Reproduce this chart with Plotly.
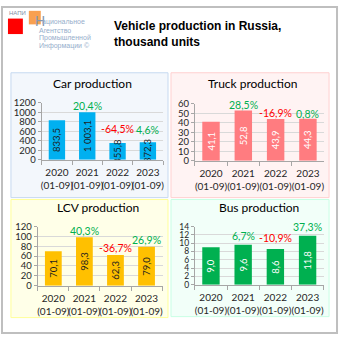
import plotly.graph_objects as go

# ---------------- data ----------------
categories = ["2020<br>(01-09)", "2021<br>(01-09)", "2022<br>(01-09)", "2023<br>(01-09)"]

car_values = [833.5, 1003.1, 355.8, 372.3]
car_growth = [20.4, -64.5, 4.6]

truck_values = [41.1, 52.8, 43.9, 44.3]
truck_growth = [28.5, -16.9, 0.8]

lcv_values = [70.1, 98.3, 62.3, 79.0]
lcv_growth = [40.3, -36.7, 26.9]

bus_values = [9.0, 9.6, 8.6, 11.8]
bus_growth = [6.7, -10.9, 37.3]

panel_titles = ["Car production", "Truck production", "LCV production", "Bus production"]
y_ticks = {
    "car": [0, 200, 400, 600, 800, 1000, 1200],
    "truck": [0, 10, 20, 30, 40, 50, 60],
    "lcv": [0, 20, 40, 60, 80, 100, 120],
    "bus": [0, 2, 4, 6, 8, 10, 12, 14],
}
main_title = "<b>Vehicle production in Russia,<br>thousand units</b>"

# ---------------- styles ----------------
W = H = 340
FONT = "Lato"
GREEN = "#00B050"
RED = "#FF0000"
# pixel gap between bar top and the centre of its growth label
label_gap = {"car": [6, 14, 12], "truck": [6, 6, 5], "lcv": [6, 7, 7], "bus": [9, 11, 9]}
ytick_size = {"car": 9.5, "truck": 9.5, "lcv": 9.5, "bus": 8.5}


def px(x):
    return x / W


def py(y):
    return 1 - y / H


def fmt_val(v):
    return f"{v:,.1f}".replace(",", " ").replace(".", ",")


def fmt_pct(v):
    return f"{v:.1f}".replace(".", ",") + "%"


fig = go.Figure()
annotations = []

panels = [
    # key, values, growth, bar colour, inner label colour, xaxis domain px, yaxis domain px(top,bottom)
    ("car", car_values, car_growth, "#00B0F0", "#1F1F1F", (41, 163), (100, 159)),
    ("truck", truck_values, truck_growth, "#FF7C80", "#FFFFFF", (195, 325), (101, 160)),
    ("lcv", lcv_values, lcv_growth, "#FFC000", "#1F1F1F", (37, 163), (228, 289)),
    ("bus", bus_values, bus_growth, "#00B050", "#FFFFFF", (195, 325), (228, 288)),
]

for i, (key, vals, growth, color, lblcol, xd, yd) in enumerate(panels):
    n = "" if i == 0 else str(i + 1)
    xa, ya = "x" + n, "y" + n
    fig.add_trace(go.Bar(
        x=categories, y=vals, xaxis=xa, yaxis=ya,
        marker=dict(color=color, line=dict(width=0)),
        text=[fmt_val(v) for v in vals],
        textposition="inside", insidetextanchor="middle",
        textangle=-90, constraintext="none",
        textfont=dict(family=FONT, size=9.5, color=lblcol),
        hoverinfo="skip", showlegend=False,
    ))
    for cat, v, g, gap in zip(categories[1:], vals[1:], growth, label_gap[key]):
        annotations.append(dict(
            x=cat, y=v, xref=xa, yref=ya, text=fmt_pct(g), showarrow=False,
            xanchor="center", yanchor="middle", yshift=gap,
            font=dict(family=FONT, size=10.5, color=GREEN if g >= 0 else RED),
        ))
    ticks = y_ticks[key]
    fig.layout["xaxis" + n] = dict(
        domain=[px(xd[0]), px(xd[1])], anchor=ya,
        type="category", showgrid=False,
        showline=True, linecolor="#A6A6A6", linewidth=1,
        ticks="outside", tickson="boundaries", ticklen=4, tickcolor="#A6A6A6",
        tickangle=0, ticklabelstandoff=3,
        tickfont=dict(family=FONT, size=10, color="#262626"),
        fixedrange=True,
    )
    fig.layout["yaxis" + n] = dict(
        domain=[py(yd[1]), py(yd[0])], anchor=xa,
        range=[ticks[0], ticks[-1]], tickvals=ticks,
        showgrid=True, gridcolor="#D9D9D9", gridwidth=1,
        showline=True, linecolor="#A6A6A6", linewidth=1,
        ticks="outside", ticklen=3, tickcolor="#A6A6A6",
        tickfont=dict(family=FONT, size=ytick_size[key], color="#262626"),
        zeroline=False, fixedrange=True,
    )

fig.update_layout(bargap=0.46)

# ---------------- decoration ----------------
shapes = []
panel_boxes = [
    ((10, 69, 168, 198), "#F3F7FC", "#C6D9F0"),
    ((171, 69, 330, 198), "#FFF3F3", "#FFD0D0"),
    ((10, 200, 168, 322), "#FFFFE8", "#FFFF99"),
    ((171, 200, 330, 321), "#F2FFF9", "#C8FFE4"),
]
for (x0, y0, x1, y1), fill, line in panel_boxes:
    shapes.append(dict(type="rect", xref="paper", yref="paper",
                       x0=px(x0), x1=px(x1), y0=py(y1), y1=py(y0),
                       fillcolor=fill, line=dict(color=line, width=1), layer="below"))

# outer border
shapes.append(dict(type="rect", xref="paper", yref="paper",
                   x0=px(1), x1=px(338), y0=py(338), y1=py(1),
                   line=dict(color="#BFBFBF", width=2), layer="above"))
# logo squares
shapes.append(dict(type="rect", xref="paper", yref="paper",
                   x0=px(7), x1=px(22), y0=py(29), y1=py(13),
                   fillcolor="#FF0000", line=dict(width=0)))
shapes.append(dict(type="rect", xref="paper", yref="paper",
                   x0=px(28), x1=px(40), y0=py(19), y1=py(5),
                   fillcolor="#F8A050", line=dict(width=0)))

title_pos = [(92, 80), (253, 80), (98, 208), (260, 208)]
for t, (x, y) in zip(panel_titles, title_pos):
    annotations.append(dict(text=t, xref="paper", yref="paper", x=px(x), y=py(y),
                            xanchor="center", yanchor="middle", showarrow=False,
                            font=dict(family=FONT, size=12, color="#000000")))

annotations.append(dict(text=main_title, xref="paper", yref="paper",
                        x=px(112), y=py(29), xanchor="left", yanchor="middle",
                        align="left", showarrow=False,
                        font=dict(family="Liberation Sans", size=12, color="#000000")))

# logo texts
logo_col = "#95AECB"
annotations.append(dict(text="НАПИ", xref="paper", yref="paper", x=px(6), y=py(7),
                        xanchor="left", yanchor="middle", showarrow=False,
                        font=dict(family="Liberation Sans", size=6, color="#7F8FA6")))
annotations.append(dict(text="Н", xref="paper", yref="paper", x=px(32), y=py(16),
                        xanchor="left", yanchor="middle", showarrow=False,
                        font=dict(family="Liberation Sans", size=14, color="#8497B0")))
logo_lines = [("ациональное", 39, 17), ("Агентство", 36, 25),
              ("Промышленной", 36, 33), ("Информации ©", 36, 41)]
for t, x, y in logo_lines:
    annotations.append(dict(text=t, xref="paper", yref="paper", x=px(x), y=py(y),
                            xanchor="left", yanchor="middle", showarrow=False,
                            font=dict(family="Liberation Sans", size=7, color=logo_col)))

fig.update_layout(
    width=W, height=H, margin=dict(l=0, r=0, t=0, b=0, pad=0),
    paper_bgcolor="#FFFFFF", plot_bgcolor="rgba(0,0,0,0)",
    shapes=shapes, annotations=annotations,
    font=dict(family=FONT, color="#262626"),
    showlegend=False,
)

fig.write_html("out.html", config={"displayModeBar": False})
